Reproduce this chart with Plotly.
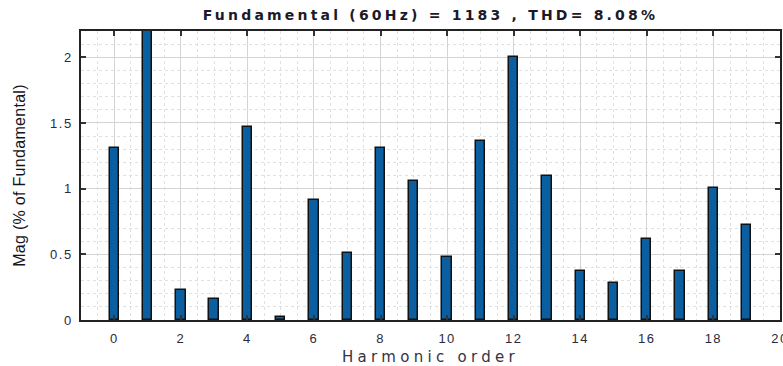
import plotly.graph_objects as go

harmonic_order = list(range(20))
magnitude = [1.31, 2.60, 0.23, 0.16, 1.47, 0.02, 0.915, 0.51, 1.31, 1.055,
             0.48, 1.36, 2.005, 1.10, 0.375, 0.28, 0.62, 0.37, 1.005, 0.72]
x_tick_values = [0, 2, 4, 6, 8, 10, 12, 14, 16, 18, 20]
x_tick_labels = ["0", "2", "4", "6", "8", "10", "12", "14", "16", "18", "20"]
y_tick_values = [0, 0.5, 1, 1.5, 2]
y_tick_labels = ["0", "0.5", "1", "1.5", "2"]
title_text = "Fundamental (60Hz) = 1183 , THD= 8.08%"
x_title = "Harmonic order"
y_title = "Mag (% of Fundamental)"


def spaced(text, px):
    return '<span style="letter-spacing:%spx">%s</span>' % (px, text)


fig = go.Figure(go.Bar(
    x=harmonic_order, y=magnitude, width=0.28,
    marker=dict(color="#0b5e9f", line=dict(color="#111111", width=1.5)),
))

axis_common = dict(
    showline=True, linecolor="#222222", linewidth=1.5, mirror="allticks",
    ticks="inside", ticklen=5, tickcolor="#333333", tickwidth=1.5,
    showgrid=True, gridcolor="#d4d4d4", gridwidth=1,
    zeroline=False, automargin=False, tickmode="array", ticklabeloverflow="allow",
    tickfont=dict(family="Liberation Sans, Arial", size=13, color="#2a2a3a"),
)

fig.update_xaxes(range=[-1, 20.002], tickvals=x_tick_values,
                 ticktext=[spaced(t, 1.5) for t in x_tick_labels], ticklabelstandoff=6,
                 minor=dict(dtick=0.5, tick0=0, showgrid=True, gridcolor="#e0e0e0", griddash="dot", ticks=""),
                 title=dict(text=spaced(x_title, 4.3), standoff=8,
                            font=dict(family="DejaVu Sans", size=15, color="#333344")),
                 **axis_common)
fig.update_yaxes(range=[0, 2.2], tickvals=y_tick_values,
                 ticktext=[spaced(t, 1.5) for t in y_tick_labels], ticklabelstandoff=4,
                 minor=dict(dtick=0.1, showgrid=True, gridcolor="#e0e0e0", griddash="dot", ticks=""),
                 title=dict(text=spaced(y_title, 0.3), standoff=20,
                            font=dict(family="Liberation Sans", size=16, color="#151520")),
                 **axis_common)

fig.update_layout(
    width=783, height=366,
    margin=dict(l=81, r=3, t=31, b=46),
    paper_bgcolor="white", plot_bgcolor="white",
    title=dict(text="<b>" + spaced(title_text, 3.2) + "</b>",
               x=0.5, xref="paper", xanchor="center", y=1 - 15 / 366, yref="container", yanchor="middle",
               font=dict(family="DejaVu Sans", size=14, color="#1a1a2a")),
    showlegend=False, bargap=0,
)

fig.write_html(
    "out.html",
    config={"displayModeBar": False},
    post_script="document.body.style.margin='0';document.body.style.overflow='hidden';",
)
